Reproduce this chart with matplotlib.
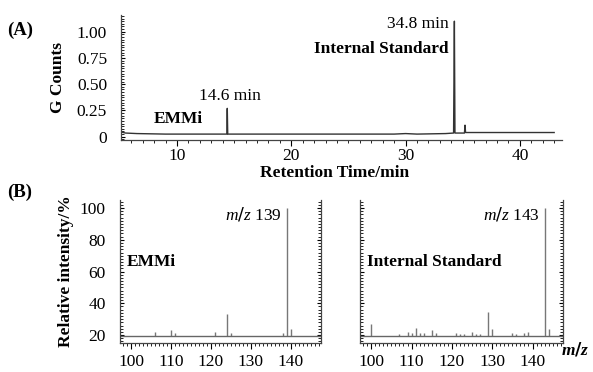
import numpy as np
import matplotlib
matplotlib.use('Agg')
import matplotlib.pyplot as plt
from matplotlib.ticker import MultipleLocator

plt.rcParams['font.family'] = ['Liberation Serif', 'DejaVu Serif']
plt.rcParams['mathtext.fontset'] = 'custom'
plt.rcParams['mathtext.it'] = 'Liberation Serif:italic'
plt.rcParams['mathtext.bfit'] = 'Liberation Serif:bold:italic'

# (A) chromatogram
chrom_time = [5.1, 5.5, 6.5, 7.5, 9.0, 12.0, 14.36, 14.4, 14.44, 18.0, 25.0, 29.0,
              30.0, 31.0, 33.5, 34.2, 34.27, 34.32, 35.15, 35.2, 35.25, 37.0, 40.0, 43.0]
chrom_counts = [0.045, 0.035, 0.03, 0.028, 0.025, 0.025, 0.025, 0.27, 0.025, 0.025, 0.025, 0.025,
                0.03, 0.025, 0.03, 0.035, 1.10, 0.035, 0.035, 0.11, 0.04, 0.04, 0.04, 0.04]

# (B) mass spectra: m/z and relative intensity
emmi_mz = [106, 110, 111, 121, 124, 125, 138, 139, 140]
emmi_int = [22, 23, 21.5, 22, 33, 21, 21.5, 100, 24]
is_mz = [100, 107, 109, 110, 111, 112, 113, 115, 116, 121, 122, 123, 125, 126, 127,
         129, 130, 135, 136, 138, 139, 143, 144]
is_int = [27, 20.8, 22, 21, 24.5, 21, 21, 23, 21, 21, 20.7, 20.7, 22, 20.7, 20.7,
          34.5, 24, 21, 20.7, 21, 22, 100, 24]
baseline = 19.5

fig = plt.figure(figsize=(5.93, 3.72), dpi=100)

def style_axis(ax):
    ax.tick_params(axis='x', which='major', direction='out', length=4, labelsize=12.5, pad=4)
    ax.tick_params(axis='x', which='minor', direction='out', length=2)
    ax.tick_params(axis='y', which='major', direction='in', length=3, labelsize=12.5, pad=10)
    ax.tick_params(axis='y', which='minor', direction='in', length=2)
    for s in ax.spines.values():
        s.set_color('#444444')
        s.set_linewidth(0.9)
    ax.spines['top'].set_visible(False)

# ---- (A)
ax1 = fig.add_axes([0.204, 0.624, 0.744, 0.336])
ax1.plot(chrom_time, chrom_counts, color='#333333', lw=1.0)
ax1.set_xlim(5.1, 43.7)
ax1.set_ylim(-0.03, 1.16)
ax1.spines['right'].set_visible(False)
ax1.set_xticks([10, 20, 30, 40])
ax1.xaxis.set_minor_locator(MultipleLocator(1))
ax1.set_yticks([0, 0.25, 0.5, 0.75, 1.0])
ax1.set_yticklabels(['0', '0.25', '0.50', '0.75', '1.00'])
ax1.yaxis.set_minor_locator(MultipleLocator(0.025))
style_axis(ax1)
ax1.tick_params(axis='x', which='major', pad=2)
ax1.set_xlabel('Retention Time/min', fontsize=12.5, fontweight='bold', labelpad=-3)
ax1.xaxis.set_label_coords(0.485, -0.2)
ax1.set_ylabel('G Counts', fontsize=12.5, fontweight='bold', labelpad=8)
ax1.text(14.6, 0.31, '14.6 min', fontsize=12.5, ha='center', va='bottom')
ax1.text(10.1, 0.09, 'EMMi', fontsize=12.5, fontweight='bold', ha='center', va='bottom')
ax1.text(33.8, 1.0, '34.8 min', fontsize=12.5, ha='right', va='bottom')
ax1.text(33.8, 0.76, 'Internal Standard', fontsize=12.5, fontweight='bold', ha='right', va='bottom')
fig.text(0.012, 0.905, '(A)', fontsize=13.5, fontweight='bold')

# ---- (B)
def spectrum(rect, mz, inten, peak_label, name):
    ax = fig.add_axes(rect)
    ax.vlines(mz, baseline, inten, color='#777777', lw=1.0)
    ax.axhline(baseline, color='#666666', lw=1.0)
    ax.set_xlim(97.2, 147.5)
    ax.set_ylim(15, 105)
    ax.set_xticks([100, 110, 120, 130, 140])
    ax.xaxis.set_minor_locator(MultipleLocator(1))
    ax.set_yticks([20, 40, 60, 80, 100])
    ax.yaxis.set_minor_locator(MultipleLocator(2))
    style_axis(ax)
    ax.tick_params(axis='y', which='both', right=True)
    ax.text(mz[inten.index(100)] - 1.2, 96, r'$m/z$ ' + peak_label, fontsize=12.5,
            ha='right', va='center')
    ax.text(99.0, 66, name, fontsize=12.5, fontweight='bold', ha='left', va='center')
    return ax

ax2 = spectrum([0.202, 0.078, 0.339, 0.384], emmi_mz, emmi_int, '139', 'EMMi')
ax2.set_ylabel('Relative intensity/%', fontsize=12.5, fontweight='bold', labelpad=4)
ax3 = spectrum([0.607, 0.078, 0.342, 0.384], is_mz, is_int, '143', 'Internal Standard')
ax3.set_yticklabels([])
fig.text(0.012, 0.47, '(B)', fontsize=13.5, fontweight='bold')
fig.text(0.995, 0.035, r'$\boldsymbol{m/z}$', fontsize=12.5, ha='right', va='bottom')

fig.savefig('out.png', dpi=100)
